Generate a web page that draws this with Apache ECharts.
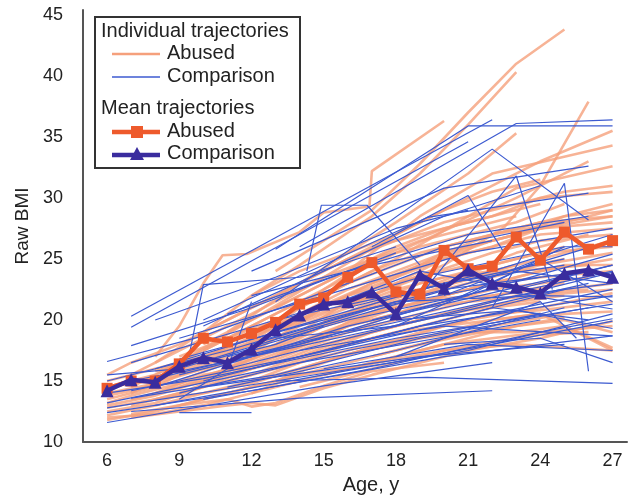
<!DOCTYPE html>
<html>
<head>
<meta charset="utf-8">
<script src="https://cdn.jsdelivr.net/npm/echarts@6/dist/echarts.min.js"></script>
<style>
  html, body { margin: 0; padding: 0; background: #fff; }
  #chart { width: 630px; height: 500px; }
</style>
</head>
<body>
<div id="chart"></div>
<script>
// ---- Data ----
const ages = [6,7,8,9,10,11,12,13,14,15,16,17,18,19,20,21,22,23,24,25,26,27];
const meanAbused = [14.4,15.0,15.0,16.4,18.5,18.2,18.9,19.8,21.3,21.8,23.5,24.7,22.3,22.1,25.7,24.2,24.4,26.8,24.9,27.2,25.8,26.5];
const meanComparison = [14.2,15.1,14.9,16.2,16.9,16.5,17.6,19.2,20.4,21.3,21.5,22.3,20.5,23.7,22.6,24.1,23.0,22.7,22.2,23.8,24.1,23.5];
const xTicks = [6,9,12,15,18,21,24,27];
const yTicks = [10,15,20,25,30,35,40,45];

// individual trajectories: each entry is a list of [age, BMI]
const abusedIndividuals = [
  [[13,24],[15,26.5],[17,29],[19,32.8],[21,37],[23,41],[25,43.8]],
  [[12,22],[14,24.5],[17,28.5],[19,32],[21,36],[23,40.3]],
  [[8,17],[9,19.5],[10,23],[10.8,25.3],[11.8,25.4],[14,27.2],[15,28.8],[16.9,29.3],[17,32.2],[20,36.3]],
  [[14,20],[17,22],[20,24.5],[22.5,27.6],[24,31],[26,37.9]],
  [[13,21],[16,24],[19,28.5],[22,32],[27,34.3]],
  [[12,19],[15,22],[18,25],[23,30.8],[27,32.6]],
  [[9,16],[13,19.5],[17,23],[22,26.5],[27,29]],
  [[10,17.5],[14,21.5],[18,25.5],[23,30],[26,33]],
  [[11,19],[14,23],[18,28],[21,32],[23,35.3]],
  [[7,14.5],[9,16.5],[12,20],[15,23.5],[18,27],[21,30],[24,33],[27,35.5]],
  [[6,13.5],[8,14.5],[10,16.5],[12,18],[14,20],[16,22],[18,23.5],[20,25],[22,26],[24,27.5],[27,28.5]],
  [[6,14.5],[8,15.5],[10,17.5],[12,19.5],[14,21.5],[16,23],[18,24.5],[20,26],[22,27],[25,28]],
  [[6,15.5],[7,16.5],[9,18],[11,20],[13,22],[15,24],[17,26],[19,27],[21,28],[24,29.5]],
  [[7,13],[9,14],[11,15.5],[13,17],[15,19],[17,20.5],[19,22],[21,23],[24,24.5],[27,25.5]],
  [[6,12.5],[8,13.2],[10,14.5],[12,16],[14,17.5],[16,19],[18,20],[20,21],[22,22],[25,23]],
  [[6,13],[8,13.8],[10,15],[12,16.8],[14,18.5],[16,20.5],[18,22],[20,23],[23,24.5]],
  [[8,15],[10,16],[12,17.5],[14,19.5],[16,21],[18,22.5],[20,23.5],[22,24],[24,25],[27,26.5]],
  [[6,12],[8,12.3],[10,13],[12,14],[14,15.5],[16,16.5],[18,17.5],[20,18.5],[22,19.5],[25,20.5],[27,20.7]],
  [[7,12],[9,12.5],[11,13],[12,13.2],[13,13],[15,14.4],[17,15.5],[19,16.5],[21,17.5],[24,18.5],[27,19.9]],
  [[6,11.8],[8,12.5],[10,13.5],[12,14.5],[14,15.5],[16,16],[18,16.8],[20,17.5],[23,18],[27,17.5]],
  [[9,13],[11,14],[13,15],[15,16.5],[17,17.8],[19,19],[21,20],[24,21],[27,22.2]],
  [[6,13.8],[9,15],[11,16.5],[13,18],[15,19.8],[17,21.5],[19,23],[21,24],[23,25.5],[26,27]],
  [[8,16.5],[10,19],[12,21],[14,23],[16,25],[18,26.5],[20,28],[22,29],[25,30.5],[27,31]],
  [[7,15.5],[9,17.5],[11,19.5],[13,21.5],[15,23.5],[17,25],[19,26.5],[21,27.5],[23,28.5]],
  [[10,15],[12,16.5],[14,18],[16,19.5],[18,21],[20,22],[22,23],[24,23.5],[27,24]],
  [[6,12.8],[8,13.5],[10,14],[12,15],[14,16.5],[16,18],[18,19],[20,20],[22,21],[24,21.5]],
  [[11,16],[13,17.5],[15,19],[17,20],[19,21],[21,21.5],[24,22],[27,22.5]],
  [[12,14],[14,15],[16,16],[18,17],[20,18],[22,18.5],[24,19],[27,19.5]],
  [[6,14],[8,14.8],[10,16],[12,17],[14,18],[16,19.5],[18,20.5],[20,21.5],[22,22.5],[24,23],[26,23.5]],
  [[8,13.5],[10,14.5],[12,15.5],[14,17],[16,18.5],[18,19.5],[20,20.5],[22,21.2],[25,22]],
  [[13,16],[15,17],[17,18],[19,18.5],[21,19],[23,19],[25,19.5],[27,17.7]],
  [[14,17],[16,18],[18,19],[20,19.5],[22,20],[24,20.5],[27,17.5]],
  [[9,14.5],[11,16],[13,18.5],[15,21],[17,23],[19,24.5],[21,26],[23,27],[25,28.5],[27,29.5]],
  [[15,20],[17,21],[19,22.5],[21,24],[23,25],[25,26]],
  [[16,19],[18,20.5],[20,22],[22,23],[24,24],[27,25]],
  [[10,18],[12,20],[14,22],[16,24],[18,26],[20,27.5],[22,28.5],[24,30],[27,30.5]],
  [[7,14],[9,15.8],[11,17.5],[13,19],[15,20.5],[17,22],[19,23.5],[21,24.5]],
  [[12,15],[14,16],[16,17.2],[18,18],[20,19],[22,20],[24,20.5]],
  [[6,15],[8,16],[10,17],[12,18.5],[14,20.5],[16,22.5],[18,24],[20,25.5],[22,26.5],[24,27.5],[27,28]],
  [[9,17],[11,18.5],[13,20],[15,22],[17,24],[19,25.5],[21,26.5],[23,27.5],[25,28.5],[27,29]],
  [[14,14.5],[16,15.5],[18,16.5],[20,17.5],[22,18.2],[24,18.8],[26,19]],
  [[7,12.3],[9,13],[11,13.5],[12,12.9],[13,13.2],[15,14.6],[17,15.8],[20,16.5]],
  [[6,13.2],[7,13.8],[9,14.8],[11,16],[13,17.8],[15,19.5],[17,21],[19,22],[21,23.5],[23,24],[26,24.5]],
  [[8,14],[10,15.5],[12,16.2],[14,17.8],[16,19.8],[18,21.5],[20,22.8],[22,23.8],[25,25]],
  [[10,16.5],[12,18],[14,20],[16,22],[18,23],[20,24.2],[22,25.5],[24,26.5],[27,27]],
  [[11,15],[13,16],[15,17.5],[17,19],[19,20],[21,20.8],[23,21.5],[25,22.5],[27,23]],
  [[13,17],[15,18.5],[17,20.5],[19,21.5],[21,22.5],[23,23.5],[25,24.5],[27,24.5]],
  [[7,13.5],[9,14.5],[11,15.5],[13,16.5],[15,18],[17,19],[19,20],[21,21],[23,22],[26,22.5]],
  [[6,12.2],[8,13],[10,14],[12,14.8],[14,16],[16,17.2],[18,18.2],[20,19.5],[22,20.5],[24,20.8],[27,21.5]],
  [[9,15.5],[11,17],[13,19.5],[15,22.5],[17,25],[19,26],[21,27],[23,28],[25,29.5]],
  [[12,17],[14,19],[16,21.5],[18,23.5],[20,25.5],[22,27],[24,28],[27,28.5]],
  [[14,19],[16,20.5],[18,22],[20,23],[22,24.5],[24,25.5],[27,26]],
  [[16,21],[18,23],[20,25],[22,26],[24,27],[27,27.5]],
  [[8,15.8],[10,17],[12,18],[14,19],[16,20],[18,21],[20,21.8],[22,22],[24,22.5]],
  [[17,17],[19,18],[21,18.8],[23,19.5],[25,20],[27,19]],
  [[15,15.5],[17,16.5],[19,17.5],[21,18.5],[23,19.5],[25,20.2]],
  [[10,19],[12,22],[14,24],[16,25.5],[18,27],[20,29],[22,30.5],[24,31.5]]
];

const comparisonIndividuals = [
  [[13,25.8],[21,35.9],[27,35.9]],
  [[14,26],[23,36.1],[27,36.4]],
  [[7,20.3],[22,36.4]],
  [[7,19.4],[21,34.6]],
  [[13,21.5],[22,34],[26,28.2]],
  [[12,24],[20,30.8],[26,32.6]],
  [[10,20],[19.3,28.4],[26,30.4]],
  [[19,22],[23,31.8],[24.5,22.5]],
  [[22,21],[25,31.2],[26,15.8]],
  [[14.3,24],[14.9,29.4],[16.8,29.4],[19,24.5]],
  [[17,26],[21,30.2],[22.5,25.5]],
  [[9.4,17],[10,22.9],[14,23.5],[18,26]],
  [[6,16.6],[10,18.7],[16,23]],
  [[6,11.6],[15,14.6],[22,16.5]],
  [[6,12.4],[12,14.2],[20,17],[27,18.7]],
  [[6,13.2],[14,16.5],[24,20]],
  [[6,14],[10,15.2],[18,18.5],[27,21.3]],
  [[7,12.5],[14,13.6],[22,14.2]],
  [[9,12.4],[12,12.4]],
  [[7,13.6],[13,15.5],[19,18.5],[26,21]],
  [[7,17.9],[12,21],[18,25.5]],
  [[8,14.5],[16,19.5],[27,24.5]],
  [[7,15],[12,17],[19,20],[27,23.9]],
  [[8,13],[15,15.5],[22,18],[27,19.9]],
  [[6,15],[11,17.5],[17,21],[24,23.5]],
  [[9,15.5],[14,18],[20,21.5],[27,25.4]],
  [[10,13.5],[17,16],[24,19],[27,20.1]],
  [[11,14.5],[18,17.5],[25,21]],
  [[8,16],[13,19],[20,23],[25,24.5]],
  [[12,16],[19,19.5],[27,22]],
  [[9,18.5],[15,22],[21,25.5],[27,27.5]],
  [[10,16.5],[16,20],[22,22.5],[27,20.9]],
  [[13,15],[19.3,15.3],[27,14.8]],
  [[7,16.5],[13,20],[19,23.5],[25,26]],
  [[11,20.5],[16,24],[21,27],[26,28.5]],
  [[14,17.5],[20,19.5],[27,18.7]],
  [[15,16],[21,18],[27,17.5]],
  [[12,18],[18,21.5],[24,22],[27,21.9]],
  [[8,20],[13,23.5],[18,27.5],[21,29]],
  [[16,18],[22,21],[26,20]],
  [[10,19.5],[15,24],[20,28.5],[24,31]],
  [[13,18.5],[18,19.5],[23,24],[27,23]],
  [[17,20],[21,22],[25,26],[27,26]],
  [[18,17],[24,21.5],[25.5,18.5]],
  [[20,22],[24,25],[27,21.5]],
  [[9,14],[16,17.5],[24,20.5]],
  [[15,21],[19,24],[23,22.5],[27,24.5]],
  [[6,15.5],[9,16],[14,19]],
  [[11,17],[13,18],[15,19.5]],
  [[9,13.5],[11,16],[12,21.5]],
  [[6,12.8],[13,15],[21,17.5],[27,20.5]],
  [[7,14.2],[14,17],[22,20.5],[27,22.5]],
  [[8,15.2],[15,18.5],[23,22],[27,23]],
  [[10,15],[17,18.5],[25,22.5]],
  [[11,16],[18,19.5],[26,23]],
  [[12,17.2],[20,21],[27,24]],
  [[14,19],[21,23],[27,26.5]],
  [[13,20],[19,22.5],[25,25]],
  [[16,21],[22,24],[27,27]],
  [[9,16.8],[14,19.5],[20,22.5],[26,24]],
  [[18,20],[23,20.8],[27,19.3]],
  [[20,18],[24,18.5],[27,16.5]],
  [[12,22],[17,24.5],[22,26.5]],
  [[16,23],[20,26],[25,28]],
  [[10,14.5],[19,17],[25,18]]
];

// ---- Chart ----
const chart = echarts.init(document.getElementById('chart'), null, { renderer: 'canvas' });
const FONT = 'Liberation Sans, Arial, Helvetica, sans-serif';
const TXT = '#222';

const series = [];
abusedIndividuals.forEach(function (traj) {
  series.push({
    type: 'line', data: traj, symbol: 'none', silent: true,
    lineStyle: { color: '#f5a07c', width: 2.6, opacity: 0.8 },
    z: 1
  });
});
comparisonIndividuals.forEach(function (traj) {
  series.push({
    type: 'line', data: traj, symbol: 'none', silent: true,
    lineStyle: { color: '#3c5ad0', width: 1.2 },
    z: 2
  });
});
series.push({
  name: 'Mean Abused', type: 'line',
  data: ages.map(function (a, i) { return [a, meanAbused[i]]; }),
  symbol: 'rect', symbolSize: 11,
  itemStyle: { color: '#ee5a2c' },
  lineStyle: { color: '#ee5a2c', width: 4.5 },
  z: 3
});
series.push({
  name: 'Mean Comparison', type: 'line',
  data: ages.map(function (a, i) { return [a, meanComparison[i]]; }),
  symbol: 'triangle', symbolSize: 13,
  itemStyle: { color: '#3a2c9e' },
  lineStyle: { color: '#3a2c9e', width: 4.5 },
  z: 4
});

// legend (drawn as graphic elements)
const LX = 95, LY = 17;
const legendGraphic = [
  { type: 'rect', shape: { x: LX, y: LY, width: 205, height: 151 },
    style: { fill: '#fff', stroke: '#333', lineWidth: 2 }, z: 100 },
  { type: 'text', x: 101, y: 31, style: { text: 'Individual trajectories', font: '20px ' + FONT, fill: TXT, verticalAlign: 'middle' }, z: 101 },
  { type: 'line', shape: { x1: 112, y1: 54, x2: 160, y2: 54 }, style: { stroke: '#f5a07c', lineWidth: 2.6 }, z: 101 },
  { type: 'text', x: 167, y: 53, style: { text: 'Abused', font: '20px ' + FONT, fill: TXT, verticalAlign: 'middle' }, z: 101 },
  { type: 'line', shape: { x1: 112, y1: 77, x2: 160, y2: 77 }, style: { stroke: '#3c5ad0', lineWidth: 1.5 }, z: 101 },
  { type: 'text', x: 167, y: 76, style: { text: 'Comparison', font: '20px ' + FONT, fill: TXT, verticalAlign: 'middle' }, z: 101 },
  { type: 'text', x: 101, y: 108, style: { text: 'Mean trajectories', font: '20px ' + FONT, fill: TXT, verticalAlign: 'middle' }, z: 101 },
  { type: 'line', shape: { x1: 112, y1: 132, x2: 160, y2: 132 }, style: { stroke: '#ee5a2c', lineWidth: 4.5 }, z: 101 },
  { type: 'rect', shape: { x: 131, y: 126, width: 12, height: 12 }, style: { fill: '#ee5a2c' }, z: 102 },
  { type: 'text', x: 167, y: 131, style: { text: 'Abused', font: '20px ' + FONT, fill: TXT, verticalAlign: 'middle' }, z: 101 },
  { type: 'line', shape: { x1: 112, y1: 155, x2: 160, y2: 155 }, style: { stroke: '#3a2c9e', lineWidth: 4.5 }, z: 101 },
  { type: 'polygon', shape: { points: [[137, 147], [144, 160], [130, 160]] }, style: { fill: '#3a2c9e' }, z: 102 },
  { type: 'text', x: 167, y: 153, style: { text: 'Comparison', font: '20px ' + FONT, fill: TXT, verticalAlign: 'middle' }, z: 101 }
];

chart.setOption({
  animation: false,
  backgroundColor: '#fff',
  grid: { left: 83, right: 0, top: 10, bottom: 53, containLabel: false },
  xAxis: {
    type: 'value', min: 5, max: 27.6, interval: 1,
    name: 'Age, y', nameLocation: 'middle', nameGap: 33,
    nameTextStyle: { fontFamily: FONT, fontSize: 20, color: TXT, padding: [0, 0, 0, 32] },
    axisLine: { show: true, lineStyle: { color: '#555', width: 2 } },
    axisTick: { show: false },
    splitLine: { show: false },
    axisLabel: {
      fontFamily: FONT, fontSize: 18, color: TXT, margin: 10,
      formatter: function (v) { return xTicks.indexOf(v) >= 0 ? String(v) : ''; }
    }
  },
  yAxis: {
    type: 'value', min: 10, max: 45.4, interval: 5,
    name: 'Raw BMI', nameLocation: 'middle', nameGap: 50, nameRotate: 90,
    nameTextStyle: { fontFamily: FONT, fontSize: 19, color: TXT },
    axisLine: { show: true, lineStyle: { color: '#555', width: 2 } },
    axisTick: { show: false },
    splitLine: { show: false },
    axisLabel: {
      fontFamily: FONT, fontSize: 18, color: TXT, margin: 20,
      formatter: function (v) { return yTicks.indexOf(v) >= 0 ? String(v) : ''; }
    }
  },
  series: series,
  graphic: legendGraphic
});
</script>
</body>
</html>
